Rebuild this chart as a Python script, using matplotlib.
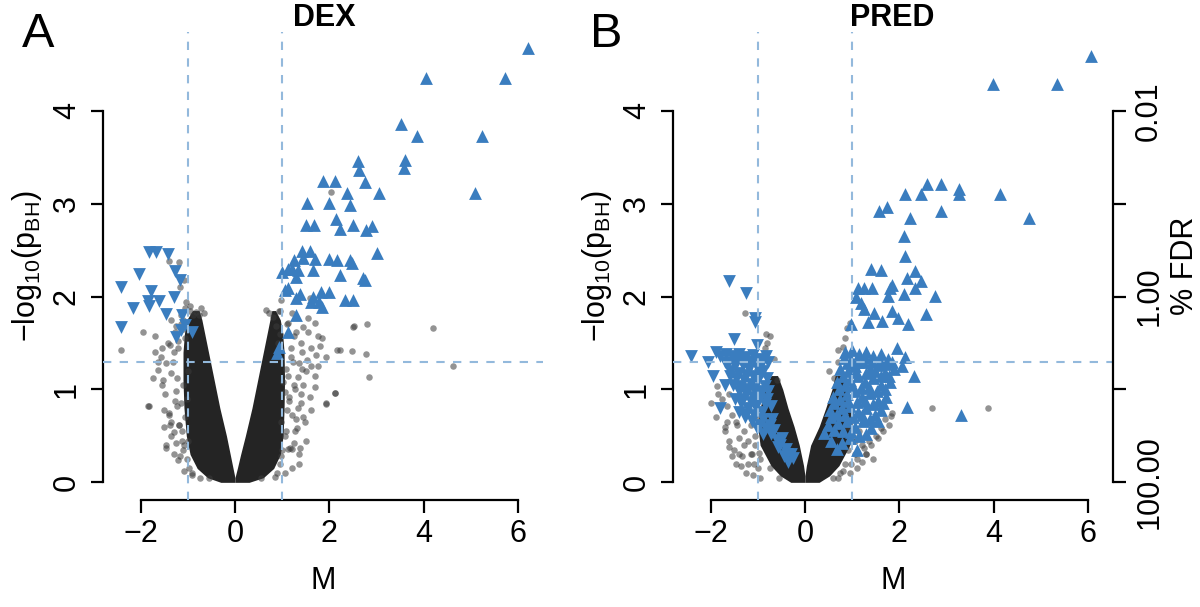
import matplotlib
matplotlib.use("Agg")
import matplotlib.pyplot as plt
import numpy as np

plt.rcParams['font.family'] = ['Liberation Sans', 'DejaVu Sans']
plt.rcParams['mathtext.fontset'] = 'custom'
plt.rcParams['mathtext.rm'] = 'Liberation Sans'
plt.rcParams['mathtext.it'] = 'Liberation Sans'

# ---- DEX: dense core of the volcano (edges of the solid black V) ----
dex_core_y = [0.00, 0.05, 0.15, 0.30, 0.50, 0.80, 1.10, 1.40, 1.60, 1.75, 1.85]
dex_core_lo = [-0.30, -0.58, -0.80, -0.95, -1.03, -1.08, -1.10, -1.10, -1.07, -1.02, -0.90]
dex_core_li = [0.00, 0.00, -0.04, -0.10, -0.18, -0.32, -0.44, -0.56, -0.64, -0.70, -0.76]
dex_core_ri = [0.00, 0.00, 0.05, 0.12, 0.22, 0.36, 0.48, 0.60, 0.68, 0.74, 0.78]
dex_core_ro = [0.30, 0.60, 0.82, 0.96, 1.02, 1.04, 1.05, 1.04, 1.01, 0.96, 0.86]

# DEX: up-regulated (triangles up)
dex_up_m = [6.21, 4.05, 5.71, 3.52, 3.85, 5.23, 2.60, 3.61, 3.57, 2.62, 1.86, 2.11, 2.75, 2.37,
            3.05, 5.09, 1.53, 1.99, 2.44, 1.51, 1.67, 2.13, 2.22, 2.50, 2.77, 2.91, 1.43, 1.58,
            3.01, 1.26, 1.69, 1.99, 2.16, 2.43, 2.47, 1.12, 1.33, 1.65, 2.22, 2.71, 2.76, 1.30,
            1.12, 1.37, 1.65, 1.83, 1.99, 1.30, 1.60, 1.79, 1.85, 2.34, 2.50, 1.30, 1.12, 0.94,
            0.88, 1.05, 1.00, 1.45, 1.20]
dex_up_y = [4.68, 4.35, 4.35, 3.86, 3.73, 3.73, 3.46, 3.47, 3.39, 3.36, 3.25, 3.25, 3.23, 3.12,
            3.12, 3.12, 3.01, 3.01, 2.99, 2.77, 2.77, 2.84, 2.73, 2.77, 2.72, 2.76, 2.49, 2.49,
            2.47, 2.39, 2.41, 2.40, 2.39, 2.39, 2.36, 2.30, 2.29, 2.29, 2.23, 2.20, 2.18, 2.21,
            2.09, 2.03, 2.00, 2.05, 2.05, 1.98, 1.94, 1.94, 1.89, 1.96, 1.96, 1.80, 1.62, 1.46,
            1.39, 2.07, 2.26, 2.42, 2.30]

# DEX: down-regulated (triangles down)
dex_dn_m = [-1.81, -1.67, -1.42, -2.04, -1.26, -1.17, -2.41, -1.77, -1.30, -2.16, -1.85, -1.60,
            -1.82, -1.47, -2.41, -1.12, -1.05, -0.90, -1.24, -1.15]
dex_dn_y = [2.48, 2.48, 2.46, 2.24, 2.28, 2.18, 2.10, 2.06, 2.00, 1.88, 1.95, 1.95,
            1.90, 1.81, 1.67, 1.80, 1.69, 1.62, 1.57, 1.64]

# DEX: other genes outside the dense core
dex_gray_m = [-2.41, -1.95, -1.69, -1.56, -1.63, -1.74, -1.53, -1.85, -1.22, -1.35, -1.29, -1.46,
              -1.17, -1.20, -1.19, -1.40, -1.07, -1.17, -1.04, -0.82, -0.76, 1.37, 1.17, 1.33,
              1.05, 1.12, 1.33, 1.43, 1.69, 1.72, 1.93, 1.93, 2.11, 2.50, 2.16, 1.41, 1.45,
              1.55, 1.76, 1.80, 1.30, 1.58, 0.98, 4.20, 4.62, 2.80, 2.84, 2.51, 2.23, 2.47,
              2.77, 2.11, 1.93, 2.03, -1.82, -1.10, 1.13, 1.20,
              -1.02, -1.08, -1.12, -1.05, -1.15, -1.25, -1.10, -1.00, -1.32, -1.20, -1.06,
              -1.14, -1.28, -1.38, -0.98, -1.02, -1.10, -1.18, -0.88, -0.95, -0.72, -0.66,
              0.95, 1.00, 1.05, 0.98, 1.10, 1.15, 1.02, 1.08, 1.22, 1.18, 0.92, 0.96, 1.25,
              1.30, 0.86, 0.80, 0.72, 0.66, 1.40, 1.50, 1.62, 1.28, 1.12, 0.94, -0.55, 0.55,
              -0.92, -1.00, 0.90, 0.98, -1.50, -1.40, 1.45, 1.35,
              -1.30, -1.25, -1.35, -1.18, -1.40, -1.28, -1.22, -1.35, -1.45, -1.30, -1.20,
              -1.42, -1.55, -1.10, -1.25, -1.35, -1.15, -1.05, -0.95, -1.48, -1.55, -1.62,
              -1.70, -1.12, -1.08, -0.90, -0.75, -1.38, -1.50, -1.45,
              1.20, 1.05, 0.85, 1.25, 1.32, 1.20, 1.40, 1.15, 1.28, 1.45, 1.35, 1.18, 1.52,
              1.40, 1.25, 1.10, 1.20, 0.95, 1.55, 1.62, 1.70, 1.58, 1.48, 1.62, 1.08, 1.35,
              1.50, 1.75, 1.85, 1.70]
dex_gray_y = [1.42, 1.62, 1.58, 1.35, 1.21, 1.12, 1.10, 0.82, 0.82, 0.65, 0.54, 0.37,
              0.28, 0.24, 2.37, 2.38, 2.18, 2.10, 1.94, 1.83, 1.80, 0.37, 0.37, 0.80,
              0.97, 1.15, 1.13, 1.22, 1.03, 1.37, 1.35, 0.85, 0.96, 1.67, 1.42, 1.40, 1.67,
              1.77, 1.58, 1.47, 1.62, 1.98, 1.96, 1.66, 1.25, 1.71, 1.13, 1.68, 1.43, 1.41,
              1.38, 0.96, 0.84, 3.13, 0.82, 0.35, 0.36, 0.36,
              0.25, 0.40, 0.55, 0.70, 0.85, 0.98, 1.05, 1.20, 1.30, 1.45, 1.55,
              1.70, 1.62, 1.48, 0.15, 0.90, 1.75, 0.62, 1.80, 1.85, 1.88, 1.82,
              0.20, 0.35, 0.50, 0.65, 0.78, 0.92, 1.08, 1.22, 1.30, 1.45, 1.50, 1.60, 1.05,
              0.68, 1.68, 1.78, 1.82, 1.86, 0.95, 1.20, 1.25, 0.55, 1.72, 1.85, 0.05, 0.05,
              0.10, 0.45, 0.10, 0.28, 0.60, 0.75, 0.70, 0.30,
              0.30, 0.42, 0.50, 0.62, 0.72, 0.88, 1.12, 1.18, 1.28, 1.40, 1.52,
              1.50, 1.45, 1.65, 1.68, 1.75, 1.80, 1.88, 1.90, 0.95, 1.05, 1.30,
              1.40, 0.45, 0.12, 0.08, 0.05, 0.62, 0.78, 0.40,
              0.15, 0.10, 0.06, 0.42, 0.58, 0.72, 0.85, 0.88, 1.00, 1.05, 1.28, 1.35, 1.32,
              1.50, 1.58, 1.70, 1.82, 1.85, 1.62, 1.45, 1.15, 0.92, 0.65, 0.78, 0.55, 0.20,
              0.45, 1.25, 1.55, 1.72]

# ---- PRED ----
pred_core_y = [0.00, 0.07, 0.18, 0.40, 0.60, 0.80, 1.00, 1.15]
pred_core_lo = [-0.30, -0.52, -0.72, -0.95, -1.00, -0.95, -0.85, -0.72]
pred_core_li = [0.00, 0.00, -0.03, -0.12, -0.23, -0.36, -0.47, -0.58]
pred_core_ri = [0.00, 0.00, 0.03, 0.12, 0.30, 0.44, 0.57, 0.64]
pred_core_ro = [0.30, 0.52, 0.72, 0.95, 1.00, 0.98, 0.92, 0.80]

pred_up_m = [6.06, 3.99, 5.34, 2.58, 2.89, 3.27, 3.27, 2.12, 2.45, 4.14, 1.57, 1.73, 2.88, 2.23,
             4.74, 2.10, 2.12, 1.39, 1.62, 2.33, 2.16, 2.45, 1.13, 1.25, 1.43, 1.85, 1.81, 2.33,
             1.75, 2.10, 2.76, 1.09, 1.18, 1.25, 1.46, 1.85, 1.96, 2.56, 1.63, 1.34, 2.19, 0.98,
             0.85, 1.00, 1.15, 1.30, 1.45, 1.60, 1.75, 0.90, 1.05, 1.22, 1.38, 1.55, 1.70, 1.88,
             0.80, 0.95, 1.12, 1.28, 1.45, 1.62, 1.80, 0.72, 0.88, 1.05, 1.20, 1.38, 1.55, 1.72,
             0.62, 0.78, 0.95, 1.12, 1.30, 1.48, 1.62, 0.55, 0.70, 0.88, 1.05, 1.22, 1.40, 0.40,
             0.78, 0.95, 1.10, 2.17, 2.30, 2.12, 3.30, 1.95, 2.05,
             0.82, 0.98, 1.12, 1.28, 1.42, 1.58, 1.72, 1.85, 0.75, 0.92, 1.08, 1.30, 1.48, 1.62,
             1.78, 0.68, 0.85, 1.00, 1.18, 1.35, 1.52, 1.70, 0.60, 0.75, 0.92, 1.10, 1.28, 1.45,
             1.65, 0.52, 0.68, 0.85, 1.02, 1.20, 1.38, 1.55, 0.48, 0.62, 0.80, 0.98, 1.15, 0.55,
             0.68, 1.30]
pred_up_y = [4.59, 4.29, 4.29, 3.21, 3.21, 3.16, 3.11, 3.11, 3.11, 3.11, 2.92, 2.96, 2.92, 2.85,
             2.85, 2.65, 2.44, 2.30, 2.29, 2.28, 2.20, 2.17, 2.09, 2.09, 2.09, 2.13, 2.09, 2.09,
             2.01, 2.03, 2.01, 2.00, 1.93, 1.87, 1.82, 1.84, 1.77, 1.81, 1.74, 1.73, 1.70, 1.70,
             1.40, 1.42, 1.38, 1.40, 1.36, 1.38, 1.33, 1.28, 1.25, 1.30, 1.22, 1.26, 1.18, 1.22,
             1.15, 1.10, 1.14, 1.08, 1.12, 1.05, 1.08, 1.00, 0.95, 0.98, 0.92, 0.96, 0.88, 0.92,
             0.85, 0.80, 0.82, 0.76, 0.80, 0.72, 0.78, 0.70, 0.64, 0.66, 0.60, 0.66, 0.58, 0.53,
             0.42, 0.48, 0.35, 0.81, 1.14, 1.35, 0.72, 1.45, 1.25,
             1.34, 1.32, 1.30, 1.34, 1.30, 1.31, 1.27, 1.30, 1.22, 1.20, 1.19, 1.18, 1.20, 1.14,
             1.15, 1.08, 1.05, 1.04, 1.02, 1.03, 0.98, 1.00, 0.92, 0.90, 0.88, 0.86, 0.88, 0.84,
             0.85, 0.78, 0.74, 0.72, 0.70, 0.72, 0.68, 0.66, 0.62, 0.56, 0.55, 0.54, 0.50, 0.45,
             0.36, 0.52]

pred_dn_m = [-1.61, -1.24, -1.05, -1.06, -1.51, -1.01, -1.89, -2.42, -1.58, -1.79,
             -1.55, -1.40, -1.25, -1.10, -0.95, -0.82, -1.62, -1.48, -1.32, -1.18, -1.02, -0.88,
             -1.45, -1.30, -1.15, -1.00, -0.85, -1.40, -1.25, -1.10, -0.95, -0.80, -1.35, -1.20,
             -1.05, -0.90, -1.28, -1.12, -0.95, -0.82, -0.72, -0.60, -0.52, -0.40, -0.30, -0.26,
             -0.45, -0.70, -1.70, -1.80, -2.05, -1.95, -1.70,
             -1.68, -1.48, -1.35, -1.18, -1.05, -0.90, -0.78, -1.58, -1.40, -1.25, -1.10, -0.95,
             -0.80, -1.52, -1.38, -1.22, -1.08, -0.92, -0.78, -1.48, -1.32, -1.15, -1.00, -0.85,
             -0.72, -1.40, -1.25, -1.08, -0.88, -0.75, -1.02, -0.65, -0.88, -0.58, -0.48, -0.38,
             -0.35]
pred_dn_y = [2.17, 2.04, 1.77, 1.73, 1.54, 1.48, 1.40, 1.36, 1.14, 0.80,
             1.36, 1.38, 1.35, 1.37, 1.33, 1.36, 1.28, 1.25, 1.26, 1.22, 1.24, 1.20,
             1.12, 1.10, 1.06, 1.10, 1.04, 0.98, 0.95, 0.92, 0.96, 0.90, 0.85, 0.80,
             0.82, 0.76, 0.70, 0.66, 0.62, 0.58, 0.52, 0.46, 0.40, 0.36, 0.31, 0.26,
             0.28, 0.68, 1.30, 1.36, 1.30, 1.15, 1.05,
             1.38, 1.32, 1.32, 1.30, 1.30, 1.28, 1.30, 1.20, 1.18, 1.16, 1.15, 1.16,
             1.12, 1.05, 1.04, 1.00, 1.00, 0.98, 0.98, 0.90, 0.90, 0.86, 0.86, 0.84,
             0.82, 0.76, 0.74, 0.72, 0.68, 0.62, 0.58, 0.56, 0.52, 0.38, 0.48, 0.30,
             0.22]

pred_gray_m = [-1.86, -1.89, -1.43, -1.33, -1.12, -0.83, -1.26, 1.82, 1.79, 1.25, 0.97, 0.90,
               0.80, 0.62, -0.66, -0.60, 2.70, 3.87, -1.60, -1.70, -1.50, -1.40, -1.20, -1.00,
               1.50, 1.35, 1.10, 1.65, -1.20, -1.60, 0.70, 0.95, -0.95, -1.05, -0.90, -1.15,
               -1.30, -0.98, -0.75, 0.85, 0.92, 1.00, 1.05, 0.88, 1.15, 1.20, 0.75, 0.60,
               -0.55, 0.50, -0.85, 1.30, 1.40, -1.45, -1.65,
               -1.25, -1.10, -0.95, -1.35, -1.40, -1.55, -1.60, -1.20, -1.30, -1.45, -1.55,
               -1.65, -1.75, -1.15, -1.05, -0.98, -1.08, -1.70, -1.85, -2.00,
               0.95, 1.10, 1.20, 1.30, 1.05, 1.40, 1.55, 1.60, 1.70, 1.15, 0.90, 0.80, 0.70,
               1.45, 1.85, -0.80, -0.75, 0.85, 0.70]
pred_gray_y = [1.04, 0.70, 0.62, 0.28, 0.31, 1.60, 1.82, 0.71, 0.62, 0.37, 0.20, 1.66,
               1.46, 1.12, 1.33, 1.10, 0.80, 0.80, 0.45, 0.55, 0.35, 0.48, 0.20, 0.15,
               0.50, 0.45, 0.25, 0.55, 1.00, 0.95, 1.30, 1.72, 0.25, 0.40, 0.55, 0.30,
               0.40, 0.70, 0.15, 0.20, 0.35, 0.45, 0.30, 0.60, 0.50, 0.40, 0.10, 0.05,
               0.05, 1.20, 1.45, 0.30, 0.62, 0.20, 0.65,
               0.10, 0.08, 0.05, 0.18, 0.30, 0.28, 0.38, 0.45, 0.55, 0.65, 0.72,
               0.82, 0.90, 0.62, 0.50, 0.32, 0.20, 0.60, 0.95, 0.85,
               0.10, 0.15, 0.22, 0.30, 0.45, 0.40, 0.48, 0.58, 0.68, 0.55, 0.60, 0.12, 0.05,
               0.25, 0.75, 1.50, 1.58, 1.55, 1.42]

XTICKS = [-2, 0, 2, 4, 6]
YTICKS = [0, 1, 2, 3, 4]
PCUT = -np.log10(0.05)

blue = '#3a7dbf'
dash_col = '#93b9dc'
core_col = '#242424'

fig = plt.figure(figsize=(12, 6.07), dpi=100)


def panel(rect, core, up, dn, gray, title, letter, title_x, letter_x):
    ax = fig.add_axes(rect)
    cy, lo, li, ri, ro = core
    ax.fill_betweenx(cy, lo, li, color=core_col, lw=0, zorder=1)
    ax.fill_betweenx(cy, ri, ro, color=core_col, lw=0, zorder=1)
    ax.scatter(gray[0], gray[1], s=22, color='#3a3a3a', alpha=0.55, lw=0, zorder=2)
    ax.scatter(up[0], up[1], s=85, marker='^', color=blue, lw=0, zorder=3)
    ax.scatter(dn[0], dn[1], s=85, marker='v', color=blue, lw=0, zorder=3)
    for v in (-1, 1):
        ax.axvline(v, color=dash_col, lw=1.5, dashes=(4, 4), zorder=4)
    ax.axhline(PCUT, color=dash_col, lw=1.5, dashes=(4, 4), zorder=4)

    ax.set_xlim(-2.8, 6.53)
    ax.set_ylim(-0.19, 4.85)
    for s in ('top', 'right'):
        ax.spines[s].set_visible(False)
    ax.spines['left'].set_bounds(0, 4)
    ax.spines['bottom'].set_bounds(-2, 6)
    for s in ('left', 'bottom'):
        ax.spines[s].set_linewidth(1.6)
    ax.set_xticks(XTICKS)
    ax.set_xticklabels([f'{t:d}'.replace('-', '\u2212') for t in XTICKS])
    ax.set_yticks(YTICKS)
    ax.set_yticklabels([str(t) for t in YTICKS], rotation=90, va='center')
    ax.tick_params(length=9, width=1.6, labelsize=22)
    ax.tick_params(axis='x', pad=5)
    ax.tick_params(axis='y', pad=6)
    ax.set_xlabel('M', fontsize=22, labelpad=12)
    ax.set_ylabel('\u2212log$_{10}$(p$_{\\mathrm{BH}}$)', fontsize=22, labelpad=6)
    fig.text(title_x, 1 - 18 / 607, title, fontsize=22, fontweight='bold',
             ha='center', va='center')
    fig.text(letter_x, 1 - 47 / 607, letter, fontsize=35, ha='left', va='baseline')
    return ax


axA = panel([0.0856, 0.1763, 0.3672, 0.771],
            (dex_core_y, dex_core_lo, dex_core_li, dex_core_ri, dex_core_ro),
            (dex_up_m, dex_up_y), (dex_dn_m, dex_dn_y), (dex_gray_m, dex_gray_y),
            'DEX', 'A', 324 / 1200, 22 / 1200)
axB = panel([0.5606, 0.1763, 0.3672, 0.771],
            (pred_core_y, pred_core_lo, pred_core_li, pred_core_ri, pred_core_ro),
            (pred_up_m, pred_up_y), (pred_dn_m, pred_dn_y), (pred_gray_m, pred_gray_y),
            'PRED', 'B', 892 / 1200, 590 / 1200)

# right axis: % FDR
ax2 = axB.twinx()
ax2.set_ylim(axB.get_ylim())
for s in ('top', 'left', 'bottom'):
    ax2.spines[s].set_visible(False)
ax2.spines['right'].set_bounds(0, 4)
ax2.spines['right'].set_linewidth(1.6)
ax2.set_yticks(YTICKS)
ax2.set_yticklabels([f'{100 * 10 ** -t:.2f}' if t % 2 == 0 else '' for t in YTICKS],
                    rotation=90, va='center')
ax2.tick_params(length=9, width=1.6, labelsize=22, pad=6)
ax2.set_ylabel('% FDR', fontsize=22, rotation=90, labelpad=4)

plt.savefig('out.png', dpi=100)
plt.close()
